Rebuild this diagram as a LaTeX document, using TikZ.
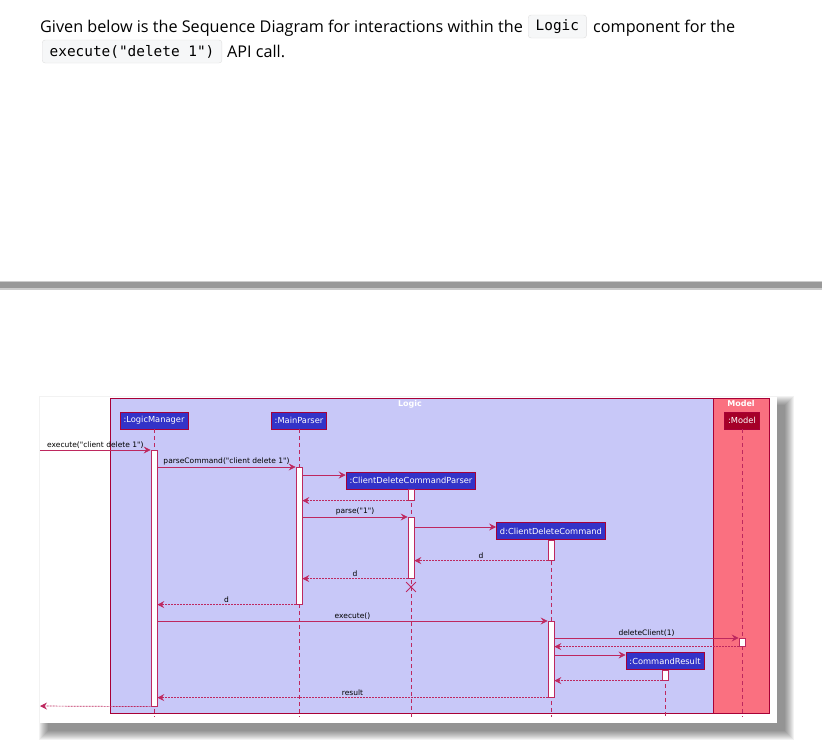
\documentclass[tikz,border=0pt]{standalone}
\usepackage{fontspec}
\newfontfamily\webfont{Open Sans}
\newfontfamily\codefont{DejaVu Sans Mono}
\newfontfamily\umlfont{DejaVu Sans}
\usetikzlibrary{arrows.meta, positioning, calc, shapes.misc}

\definecolor{umlred}{RGB}{168,0,54}
\definecolor{seqred}{RGB}{190,40,95}
\definecolor{logicfill}{RGB}{200,200,248}
\definecolor{modelfill}{RGB}{250,112,128}
\definecolor{partblue}{RGB}{51,51,200}
\definecolor{partred}{RGB}{165,0,40}
\definecolor{codebg}{RGB}{246,247,248}

\tikzset{
  webtext/.style={font=\webfont\fontsize{16.2}{19}\selectfont, inner sep=0pt, anchor=base west},
  codebox/.style={font=\codefont\fontsize{14.4}{17}\selectfont, fill=codebg, draw=black!12,
    rounded corners=3pt, inner xsep=7.5pt, minimum height=23pt, anchor=west},
  part/.style={draw=umlred, fill=partblue, text=white, line width=0.8pt,
    font=\umlfont\fontsize{8.3}{9}\selectfont, inner xsep=3.5pt, minimum height=17pt},
  actbar/.style={draw=seqred, fill=white, line width=0.6pt, minimum width=6pt,
    inner sep=0pt, anchor=north},
  lifeline/.style={seqred, line width=0.6pt, dash pattern=on 4pt off 3pt},
  msg/.style={seqred, line width=0.7pt, -{Stealth[length=7pt,width=7pt,inset=2.5pt]}},
  ret/.style={msg, dash pattern=on 2pt off 1pt},
  lbl/.style={font=\umlfont\fontsize{7.5}{8}\selectfont, text=black, inner sep=1.5pt},
  frametitle/.style={font=\umlfont\bfseries\fontsize{8}{9}\selectfont, text=white, inner sep=0pt}
}

\begin{document}
\begin{tikzpicture}[x=1pt, y=-1pt]
  \useasboundingbox (0,0) rectangle (822,747);
  \fill[white] (0,0) rectangle (822,747);

  % page text
  \node[webtext] (txtA) at (40,32) {Given below is the Sequence Diagram for interactions within the};
  \node[codebox] (codeA) at (528,26.5) {Logic};
  \node[webtext] (txtB) at (593,32) {component for the};
  \node[codebox] (codeB) at (42,51.5) {execute("delete 1")};
  \node[webtext] (txtC) at (227,57) {API call.};

  % separator
  \fill[black!20] (0,280.5) rectangle (822,289.5);
  \fill[black!40] (0,282) rectangle (822,288);

  % picture with shadow
  \foreach \i in {0,...,9}
    \fill[black, opacity=0.05] (40+8-\i,397+8-\i) rectangle (777+8+\i,723+8+\i);
  \fill[white] (40,397) rectangle (777,723);

  % boxes
  \draw[umlred, fill=logicfill, line width=0.8pt] (110,398) rectangle (713,713);
  \draw[umlred, fill=modelfill, line width=0.8pt] (713,398) rectangle (769,713);
  \node[frametitle] (logicT) at (410,404) {Logic};
  \node[frametitle] (modelT) at (741,404) {Model};

  % participants
  \node[part] (lm) at (154,420.5) {:LogicManager};
  \node[part] (mp) at (299,420.5) {:MainParser};
  \node[part] (cdp) at (411,480.5) {:ClientDeleteCommandParser};
  \node[part] (cdc) at (551,531) {d:ClientDeleteCommand};
  \node[part] (cr) at (665,661) {:CommandResult};
  \node[part, fill=partred] (md) at (742,420.5) {:Model};

  % lifelines
  \foreach \p in {lm, mp, cdp, cdc, cr, md}
    \draw[lifeline] (\p.south) -- (\p.south |- 0,717);

  % activations
  \node[actbar, minimum height=256pt] (lmA) at (154,450) {};
  \node[actbar, minimum height=137pt] (mpA) at (299,467) {};
  \node[actbar, minimum height=11pt] (cdpA) at (411,489) {};
  \node[actbar, minimum height=61pt] (cdpB) at (411,517) {};
  \node[actbar, minimum height=20pt] (cdcA) at (551,540) {};
  \node[actbar, minimum height=76pt] (cdcB) at (551,621) {};
  \node[actbar, minimum height=8pt] (mdA) at (742,638) {};
  \node[actbar, minimum height=10pt] (crA) at (665,670) {};
  \node[draw=seqred, cross out, line width=0.8pt, minimum size=9pt, inner sep=0pt] (del) at (411,587) {};

  \coordinate (entry) at (40,450);
  \coordinate (exit) at (40,706);

  % messages
  \draw[msg] (entry) -- (lmA.west |- entry) node[lbl, midway, above] {execute("client delete 1")};
  \draw[msg] (lmA.east |- 0,467) -- (mpA.west |- 0,467) node[lbl, midway, above] {parseCommand("client delete 1")};
  \draw[msg] (mpA.east |- 0,475) -- (cdp.west |- 0,475);
  \draw[ret] (cdpA.south west) -- (mpA.east |- cdpA.south);
  \draw[msg] (mpA.east |- cdpB.north) -- (cdpB.north west) node[lbl, midway, above] {parse("1")};
  \draw[msg] (cdpB.east |- 0,527) -- (cdc.west |- 0,527);
  \draw[ret] (cdcA.south west) -- (cdpB.east |- cdcA.south) node[lbl, midway, above] {d};
  \draw[ret] (cdpB.south west) -- (mpA.east |- cdpB.south) node[lbl, midway, above] {d};
  \draw[ret] (mpA.south west) -- (lmA.east |- mpA.south) node[lbl, midway, above] {d};
  \draw[msg] (lmA.east |- cdcB.north) -- (cdcB.north west) node[lbl, midway, above] {execute()};
  \draw[msg] (cdcB.east |- mdA.north) -- (mdA.north west) node[lbl, midway, above] {deleteClient(1)};
  \draw[ret] (mdA.south west) -- (cdcB.east |- mdA.south);
  \draw[msg] (cdcB.east |- 0,655) -- (cr.west |- 0,655);
  \draw[ret] (crA.south west) -- (cdcB.east |- crA.south);
  \draw[ret] (cdcB.south west) -- (lmA.east |- cdcB.south) node[lbl, midway, above] {result};
  \draw[ret] (lmA.south west) -- (exit);
\end{tikzpicture}
\end{document}
